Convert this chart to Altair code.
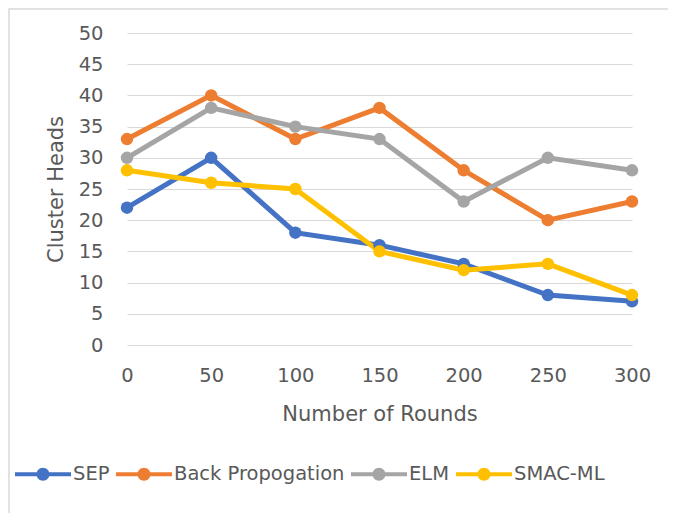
import altair as alt
import pandas as pd

rounds = [0, 50, 100, 150, 200, 250, 300]
series_names = ["SEP", "Back Propogation", "ELM", "SMAC-ML"]
sep = [22, 30, 18, 16, 13, 8, 7]
back_prop = [33, 40, 33, 38, 28, 20, 23]
elm = [30, 38, 35, 33, 23, 30, 28]
smac_ml = [28, 26, 25, 15, 12, 13, 8]
colors = ["#4472C4", "#ED7D31", "#A5A5A5", "#FFC000"]
y_ticks = [0, 5, 10, 15, 20, 25, 30, 35, 40, 45, 50]

rows = []
for name, vals in zip(series_names, [sep, back_prop, elm, smac_ml]):
    for r, v in zip(rounds, vals):
        rows.append({"Rounds": r, "Heads": v, "Series": name})
df = pd.DataFrame(rows)

FONT = "DejaVu Sans"
TXT = "#595959"

legend_path = ("M-2.8,-0.2H2.8V0.2H-2.8Z "
               "M0.65,0A0.65,0.65 0 1,1 -0.65,0A0.65,0.65 0 1,1 0.65,0Z")

x_enc = alt.X("Rounds:Q",
              scale=alt.Scale(domain=[0, 300], nice=False, zero=False),
              axis=alt.Axis(values=rounds, title="Number of Rounds", grid=False,
                            domain=False, ticks=False, labelPadding=21,
                            labelFlush=False, titlePadding=19))
y_enc = alt.Y("Heads:Q",
              scale=alt.Scale(domain=[0, 50], nice=False),
              axis=alt.Axis(values=y_ticks, title="Cluster Heads", grid=True,
                            domain=False, ticks=False, labelPadding=24,
                            labelFlush=False, titlePadding=12))
color_enc = alt.Color("Series:N",
                      scale=alt.Scale(domain=series_names, range=colors),
                      sort=series_names,
                      legend=alt.Legend(title=None, orient="none",
                                        direction="horizontal",
                                        legendX=-94, legendY=431,
                                        symbolType=legend_path,
                                        symbolSize=400,
                                        symbolStrokeWidth=0,
                                        symbolOpacity=1,
                                        labelOffset=20,
                                        columnPadding=6,
                                        padding=0))

base = alt.Chart(df)
lines = base.mark_line(strokeWidth=5).encode(x=x_enc, y=y_enc, color=color_enc,
                                             detail="Series:N")
points = base.mark_point(filled=True, size=155, opacity=1, shape="circle").encode(
    x=x_enc, y=y_enc, color=color_enc)

frame = alt.Chart(pd.DataFrame({"a": [0]})).mark_rect(
    fill=None, stroke="#D9D9D9", strokeWidth=1.5, clip=False).encode(
    x=alt.value(-118), x2=alt.value(600), y=alt.value(-24), y2=alt.value(560))

chart = alt.layer(frame, lines, points).properties(
    width=505, height=312,
    autosize=alt.AutoSizeParams(type="none"),
    padding={"left": 119, "top": 25, "right": 36, "bottom": 168},
).configure_view(stroke=None).configure_axis(
    labelFont=FONT, titleFont=FONT, labelColor=TXT, titleColor=TXT,
    labelFontSize=19.5, titleFontSize=21, titleFontWeight="normal",
    gridColor="#D9D9D9", gridWidth=1.2,
).configure_legend(
    labelFont=FONT, labelFontSize=19.5, labelColor=TXT, labelLimit=400,
)

chart.save("out.html", embed_options={"renderer": "svg", "actions": False})
